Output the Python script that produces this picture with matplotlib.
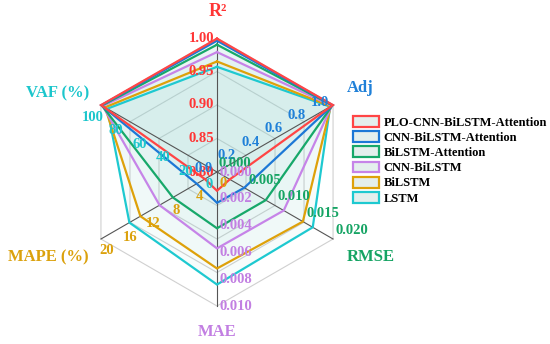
import numpy as np
import matplotlib
matplotlib.use('Agg')
import matplotlib.pyplot as plt
from matplotlib.patches import Patch

# metric axes, clockwise from top
metrics = ['R²', 'Adj', 'RMSE', 'MAE', 'MAPE (%)', 'VAF (%)']
ranges = [(0.80, 1.00), (0.0, 1.0), (0.0, 0.020), (0.0, 0.010), (0.0, 20.0), (0.0, 100.0)]
tick_labels = [
    ['0.80', '0.85', '0.90', '0.95', '1.00'],
    ['0.0', '0.2', '0.4', '0.6', '0.8', '1.0'],
    ['0.000', '0.005', '0.010', '0.015', '0.020'],
    ['0.000', '0.002', '0.004', '0.006', '0.008', '0.010'],
    ['0', '4', '8', '12', '16', '20'],
    ['0', '20', '40', '60', '80', '100'],
]

models = ['PLO-CNN-BiLSTM-Attention', 'CNN-BiLSTM-Attention', 'BiLSTM-Attention',
          'CNN-BiLSTM', 'BiLSTM', 'LSTM']
r2 = [0.999, 0.996, 0.990, 0.979, 0.965, 0.957]
adj = [0.999, 0.997, 0.994, 0.989, 0.980, 0.975]
rmse = [0.0022, 0.0047, 0.0084, 0.0115, 0.0148, 0.0165]
mae = [0.0014, 0.0023, 0.0042, 0.0057, 0.0072, 0.0084]
mape = [2.1, 3.5, 7.6, 9.9, 13.2, 15.1]
vaf = [99.9, 99.7, 99.2, 98.5, 96.5, 94.5]

line_colors = ['#ff4545', '#1c78d6', '#17a86a', '#c684e8', '#dea10a', '#1ec9d0']
axis_colors = ['#ff3535', '#1f80d8', '#16a464', '#c27fe2', '#dba10c', '#1cc6cc']

plt.rcParams['font.family'] = ['Liberation Serif', 'DejaVu Serif']
plt.rcParams['font.weight'] = 'bold'

W, H = 550, 344
cx, cy, R = 217, 172, 134  # centre and radius in pixels

fig = plt.figure(figsize=(5.5, 3.44), dpi=100)
ax = fig.add_axes([0, 0, 1, 1])
ax.set_xlim(-cx / R, (W - cx) / R)
ax.set_ylim(-(H - cy) / R, cy / R)
ax.axis('off')

angles = np.deg2rad([90, 30, -30, -90, -150, 150])
cos_a, sin_a = np.cos(angles), np.sin(angles)

def norm(vals, rng):
    lo, hi = rng
    return (np.asarray(vals) - lo) / (hi - lo)

table = np.array([r2, adj, rmse, mae, mape, vaf])
radii = np.array([norm(table[i], ranges[i]) for i in range(6)])  # (axes, models)

# grid rings
for ring in [0.25, 0.5, 0.75, 1.0]:
    xs = np.append(ring * cos_a, ring * cos_a[0])
    ys = np.append(ring * sin_a, ring * sin_a[0])
    ax.plot(xs, ys, color='#d0d0d0', lw=0.8, zorder=1)

# fills
for m in range(len(models)):
    r = radii[:, m]
    ax.fill(r * cos_a, r * sin_a, color='#8fd3cf', alpha=0.065, lw=0, zorder=2)

# spokes
for i in range(6):
    ax.plot([0, cos_a[i]], [0, sin_a[i]], color='#555555', lw=0.8, zorder=3)

# model polygons
for m in range(len(models) - 1, -1, -1):
    r = radii[:, m]
    xs = np.append(r * cos_a, r[0] * cos_a[0])
    ys = np.append(r * sin_a, r[0] * sin_a[0])
    ax.plot(xs, ys, color=line_colors[m], lw=1.6, zorder=4 + (6 - m) * 0.1,
            solid_joinstyle='miter')

# tick labels per axis: (ha, va, dx, dy) in pixels
tick_style = [
    ('right', 'center', -3, 0),
    ('right', 'center', -4, 3),
    ('left', 'bottom', 2, 2),
    ('left', 'center', 3, 0),
    ('center', 'top', 6, -5),
    ('center', 'top', -8, -6),
]
for i in range(6):
    labs = tick_labels[i]
    n = len(labs) - 1
    ha, va, dx, dy = tick_style[i]
    for k, lab in enumerate(labs):
        rr = k / n
        ax.annotate(lab, (rr * cos_a[i], rr * sin_a[i]), xytext=(dx, dy),
                    textcoords='offset pixels', ha=ha, va=va, fontsize=10.5,
                    fontweight='bold', color=axis_colors[i], zorder=6)

# axis titles (pixel positions)
title_pos = [(218, 12), (360, 88), (371, 257), (217, 332), (48, 257), (58, 93)]
for i, (px, py) in enumerate(title_pos):
    ax.text((px - cx) / R, (cy - py) / R, metrics[i], ha='center', va='center',
            fontsize=13 if i == 0 else 12, fontweight='bold', color=axis_colors[i])

handles = [Patch(facecolor='#e4efed', edgecolor=c, lw=1.6) for c in line_colors]
fig.legend(handles, models, loc='upper left', bbox_to_anchor=(353 / W, 1 - 116 / H),
           frameon=False, prop={'weight': 'bold', 'size': 9},
           handlelength=2.1, handleheight=0.95, handletextpad=0.35,
           labelspacing=0.2, borderpad=0, borderaxespad=0)

fig.savefig('out.png', dpi=100)
